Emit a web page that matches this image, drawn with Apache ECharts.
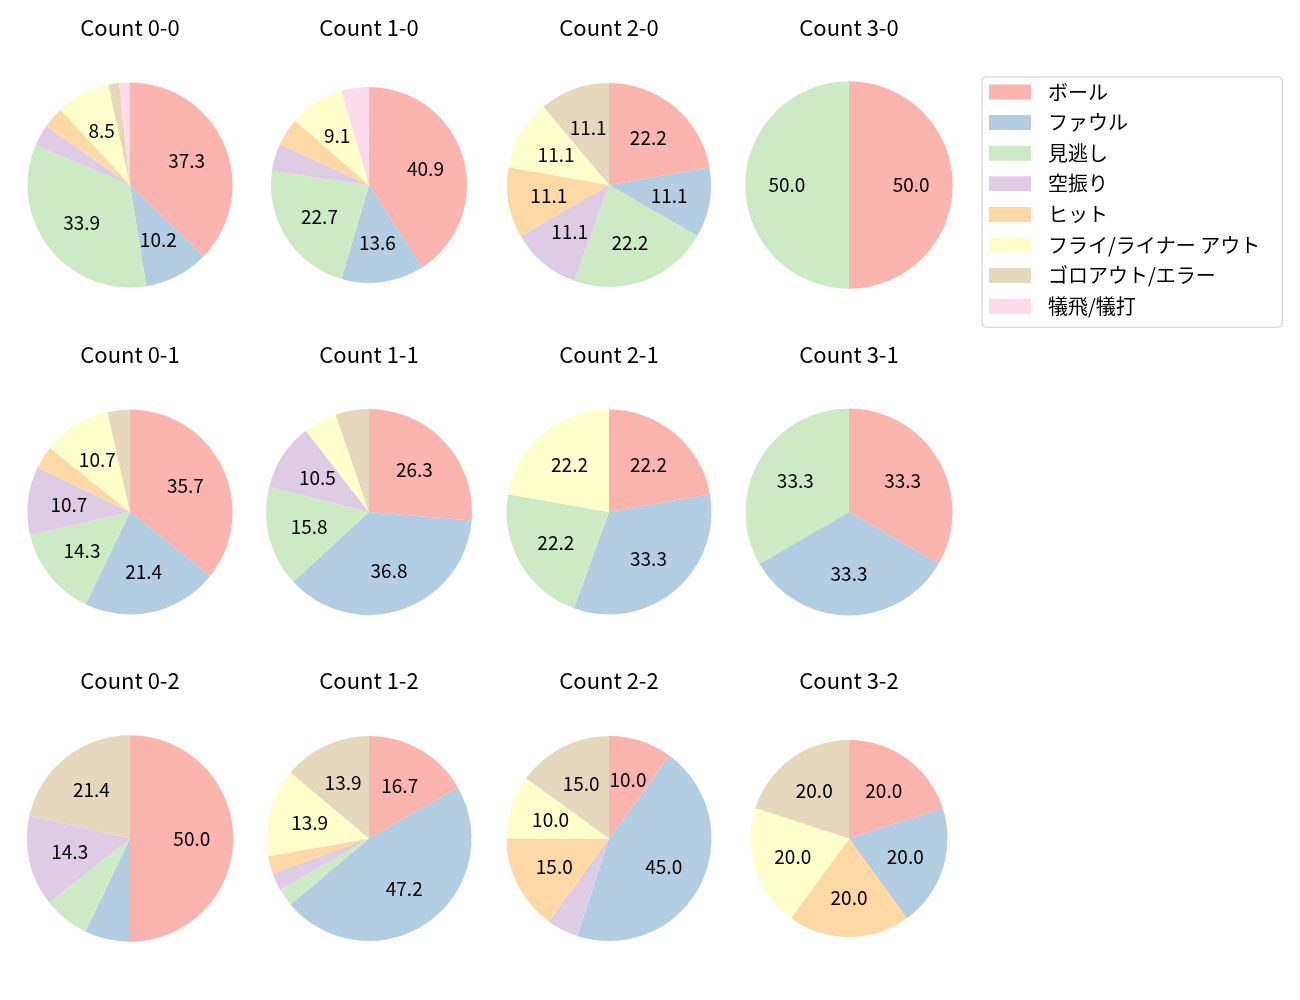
<!DOCTYPE html>
<html>
<head>
<meta charset="utf-8">
<script src="https://cdn.jsdelivr.net/npm/echarts@6/dist/echarts.min.js"></script>
<style>
html,body{margin:0;padding:0;background:#fff;}
#chart{width:1300px;height:1000px;}
</style>
</head>
<body>
<div id="chart"></div>
<script>
// ---- data ----
const categories = ['ボール', 'ファウル', '見逃し', '空振り', 'ヒット', 'フライ/ライナー アウト', 'ゴロアウト/エラー', '犠飛/犠打'];
const countLabels = ['Count 0-0', 'Count 1-0', 'Count 2-0', 'Count 3-0',
                     'Count 0-1', 'Count 1-1', 'Count 2-1', 'Count 3-1',
                     'Count 0-2', 'Count 1-2', 'Count 2-2', 'Count 3-2'];
const count00 = [22, 6, 20, 2, 2, 5, 1, 1];
const count10 = [9, 3, 5, 1, 1, 2, 0, 1];
const count20 = [2, 1, 2, 1, 1, 1, 1, 0];
const count30 = [1, 0, 1, 0, 0, 0, 0, 0];
const count01 = [10, 6, 4, 3, 1, 3, 1, 0];
const count11 = [5, 7, 3, 2, 0, 1, 1, 0];
const count21 = [2, 3, 2, 0, 0, 2, 0, 0];
const count31 = [1, 1, 1, 0, 0, 0, 0, 0];
const count02 = [7, 1, 1, 2, 0, 0, 3, 0];
const count12 = [6, 17, 1, 1, 1, 5, 5, 0];
const count22 = [2, 9, 0, 1, 3, 2, 3, 0];
const count32 = [1, 1, 0, 0, 1, 1, 1, 0];
const allCounts = [count00, count10, count20, count30,
                   count01, count11, count21, count31,
                   count02, count12, count22, count32];

// ---- style / layout ----
const colors = ['#fbb4ae', '#b3cde3', '#ccebc5', '#decbe4', '#fed9a6', '#ffffcc', '#e5d8bd', '#fddaec'];
const FONT = '"Noto Sans CJK JP", "Noto Sans", sans-serif';
const colX = [130, 369, 609, 849];
const rowY = [185, 512, 838.5];
const titleY = [28, 354.5, 681];
const radii = [102.5, 98, 102, 103.7,
               102.5, 103, 102.5, 103.5,
               103.2, 102.5, 102.5, 98.5];
const LABEL_MIN_PCT = 8;
const LABEL_RING = 1.14; // invisible label ring so that labels sit near 0.6 r

const series = [];
const labelSeries = [];
const titles = [];
allCounts.forEach((vals, i) => {
  const cx = colX[i % 4], cy = rowY[Math.floor(i / 4)];
  const r = radii[i];
  const total = vals.reduce((a, b) => a + b, 0);
  const data = categories.map((c, k) => ({ name: c, value: vals[k], itemStyle: { color: colors[k] } }));
  series.push({
    type: 'pie',
    name: countLabels[i],
    center: [cx, cy],
    radius: [0, r],
    startAngle: 90,
    clockwise: true,
    silent: true,
    animation: false,
    label: { show: false },
    labelLine: { show: false },
    itemStyle: { borderWidth: 0 },
    data: data
  });
  labelSeries.push({
    type: 'pie',
    name: countLabels[i] + ' labels',
    center: [cx, cy],
    radius: [0, r * LABEL_RING],
    startAngle: 90,
    clockwise: true,
    silent: true,
    animation: false,
    itemStyle: { color: 'rgba(0,0,0,0)' },
    labelLine: { show: false },
    label: {
      show: true,
      position: 'inside',
      fontFamily: FONT,
      fontSize: 19,
      color: '#000',
      padding: [0, 0, 3, 0],
      formatter: p => {
        const pct = p.value / total * 100;
        return pct >= LABEL_MIN_PCT ? pct.toFixed(1) : '';
      }
    },
    data: categories.map((c, k) => ({ name: c, value: vals[k] }))
  });
  titles.push({
    text: countLabels[i],
    left: cx,
    top: titleY[Math.floor(i / 4)] - 11,
    textAlign: 'center',
    padding: 0,
    textStyle: { fontFamily: FONT, fontSize: 22, fontWeight: 'normal', color: '#000', lineHeight: 22 }
  });
});

const chart = echarts.init(document.getElementById('chart'), null, { renderer: 'canvas' });
chart.setOption({
  backgroundColor: '#ffffff',
  animation: false,
  title: titles,
  legend: {
    data: categories,
    orient: 'vertical',
    left: 982,
    top: 77,
    padding: [5, 22, 11, 7],
    itemWidth: 42,
    itemHeight: 15,
    itemGap: 10.6,
    icon: 'rect',
    selectedMode: false,
    backgroundColor: '#ffffff',
    borderColor: '#cccccc',
    borderWidth: 1,
    borderRadius: 4,
    textStyle: { fontFamily: FONT, fontSize: 20, color: '#000', padding: [0, 0, 0, 12] }
  },
  series: series.concat(labelSeries)
});
</script>
</body>
</html>
